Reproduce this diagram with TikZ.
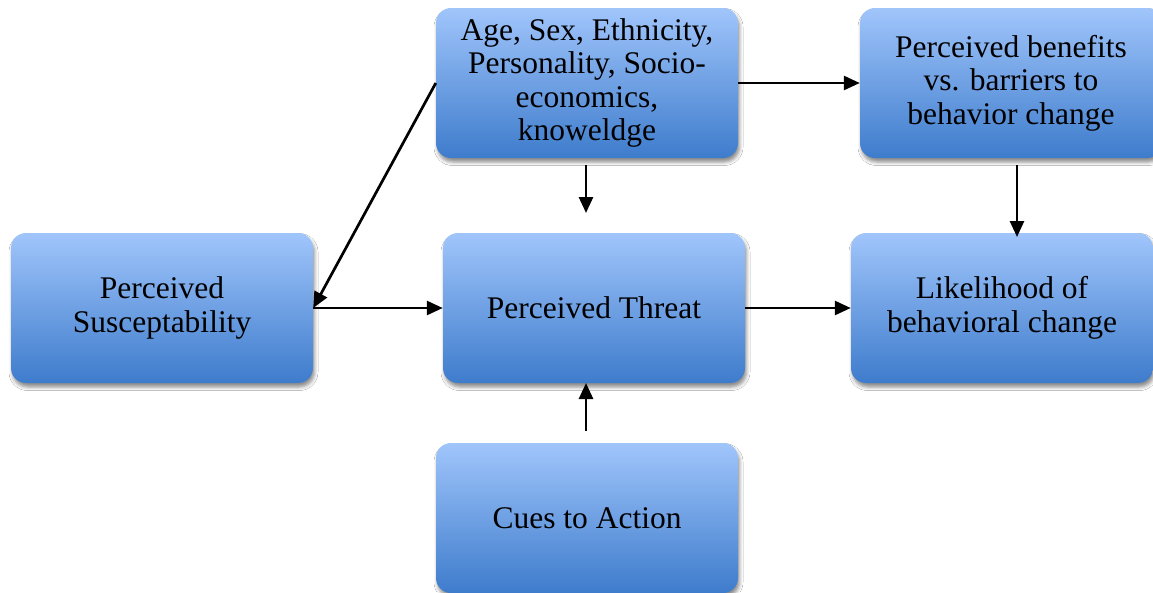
\documentclass[tikz,border=0pt]{standalone}
\usepackage{fontspec}
\setmainfont{Liberation Serif}
\usetikzlibrary{arrows.meta,shadows.blur}

\definecolor{boxtop}{HTML}{A0C5FB}
\definecolor{boxbottom}{HTML}{3E7CCC}

\tikzset{
  block/.style={
    rounded corners=15pt,
    minimum width=302pt, minimum height=150pt,
    inner sep=0pt,
    top color=boxtop, bottom color=boxbottom,
    draw=none,
    blur shadow={shadow xshift=1.5pt, shadow yshift=-4pt,
                 shadow blur radius=3.5pt, shadow opacity=45},
    align=center,
    font=\fontsize{31.5}{33.5}\selectfont
  },
  link/.style={line width=2.7pt, -{Triangle[length=16pt,width=14pt]}}
}

\begin{document}
\begin{tikzpicture}[x=1pt,y=-1pt]
  \useasboundingbox[fill=white] (0,0) rectangle (1153,592);

  % factor boxes
  \node[block] (demo)   at (587,83)   {Age, Sex, Ethnicity,\\Personality, Socio-\\economics,\\knoweldge};
  \node[block] (benef)  at (1011,83)  {Perceived benefits\\vs. barriers to\\behavior change};
  \node[block] (suscep) at (162,308)  {Perceived\\Susceptability};
  \node[block] (threat) at (594,308)  {Perceived Threat};
  \node[block] (likely) at (1002,308) {Likelihood of\\behavioral change};
  \node[block] (cues)   at (587,518)  {Cues to Action};

  % free ends of the short vertical connectors
  \coordinate (demoOut) at (586,165);
  \coordinate (demoIn)  at (586,213);
  \coordinate (benefOut) at (1017,165);
  \coordinate (likelyIn) at (1017,237);
  \coordinate (cuesOut) at (586,431);
  \coordinate (threatIn) at (586,383);

  % connectors
  \draw[link] (demo.west) -- (suscep.east);
  \draw[link] (demo.east) -- (benef.west);
  \draw[link] (demoOut) -- (demoIn);
  \draw[link] (benefOut) -- (likelyIn);
  \draw[link] (suscep.east) -- (threat.west);
  \draw[link] (threat.east) -- (likely.west);
  \draw[link] (cuesOut) -- (threatIn);
\end{tikzpicture}
\end{document}
